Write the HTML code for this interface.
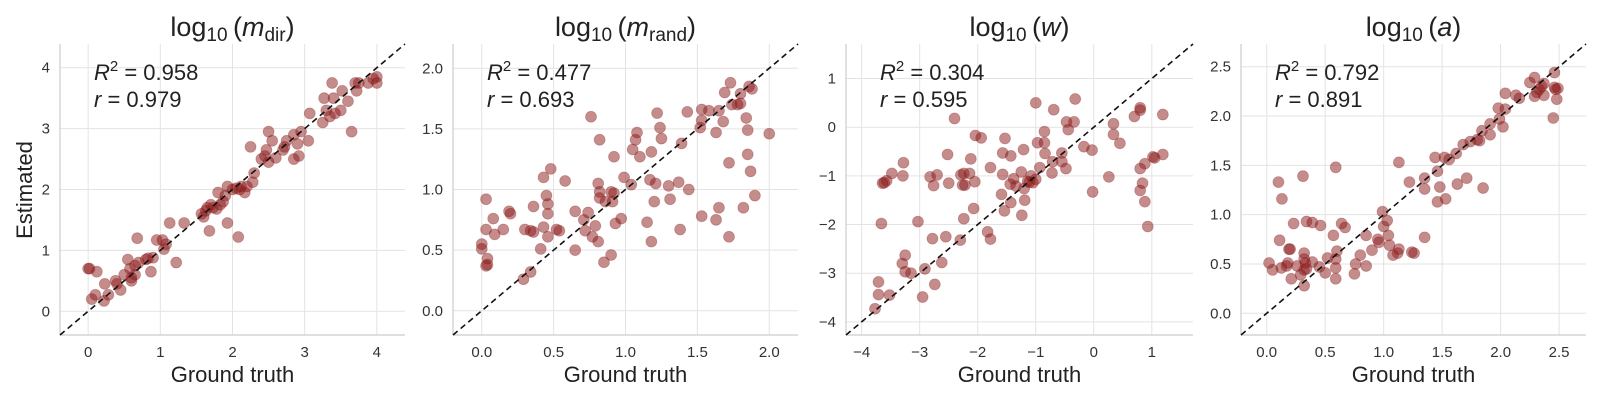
<!DOCTYPE html>
<html><head><meta charset="utf-8">
<style>
html,body{margin:0;padding:0;background:#fff;}
svg{display:block;font-family:"Liberation Sans","DejaVu Sans",sans-serif;}
</style></head>
<body>
<svg id="fig" width="1600" height="400" viewBox="0 0 1600 400" xmlns="http://www.w3.org/2000/svg"></svg>
<script>
// ---- data ----
const gt1=[0,0.02,0.12,0.05,0.1,0.23,0.22,0.28,0.38,0.4,0.45,0.5,0.55,0.6,0.6,0.65,0.68,0.7,0.65,0.58,0.8,0.83,0.87,0.9,0.95,1.03,1.05,1.08,1.13,1.22,1.33,1.57,1.6,1.63,1.65,1.68,1.7,1.73,1.78,1.8,1.83,1.87,1.9,1.93,1.93,2.0,2.05,2.08,2.1,2.12,2.17,2.2,2.25,2.28,2.3,2.4,2.45,2.47,2.5,2.5,2.55,2.6,2.7,2.72,2.75,2.85,2.85,2.9,2.92,2.95,3.05,3.07,3.25,3.27,3.3,3.35,3.38,3.4,3.42,3.5,3.52,3.6,3.65,3.7,3.72,3.75,3.88,3.95,4.0,4.0];
const est1=[0.7,0.7,0.65,0.2,0.27,0.45,0.17,0.27,0.5,0.45,0.35,0.6,0.85,0.55,0.5,0.6,1.2,0.8,0.75,0.7,0.85,0.87,0.65,0.88,1.17,1.17,1.02,1.1,1.45,0.8,1.45,1.6,1.55,1.65,1.7,1.32,1.75,1.7,1.68,1.95,1.75,1.8,1.9,2.05,1.45,2.0,2.02,1.22,2.0,2.05,1.95,2.05,2.7,2.12,2.27,2.5,2.55,2.65,2.45,2.95,2.8,2.52,2.65,2.7,2.8,2.5,2.9,2.75,2.55,2.95,2.8,3.25,3.1,3.5,3.3,3.2,3.75,3.5,3.25,3.3,3.62,3.45,2.95,3.75,3.62,3.75,3.75,3.82,3.85,3.75];
const gt2=[0.0,0.0,0.03,0.03,0.04,0.03,0.04,0.08,0.09,0.15,0.19,0.2,0.3,0.34,0.36,0.36,0.29,0.34,0.41,0.43,0.43,0.45,0.46,0.46,0.46,0.48,0.52,0.54,0.58,0.65,0.65,0.71,0.72,0.74,0.76,0.77,0.79,0.81,0.81,0.82,0.82,0.82,0.85,0.86,0.9,0.9,0.91,0.92,0.92,0.93,0.97,0.99,1.04,1.05,1.07,1.08,1.1,1.15,1.17,1.18,1.18,1.2,1.21,1.22,1.24,1.25,1.3,1.31,1.37,1.38,1.39,1.44,1.43,1.52,1.53,1.53,1.53,1.58,1.63,1.63,1.65,1.65,1.68,1.69,1.72,1.72,1.73,1.74,1.78,1.8,1.8,1.82,1.84,1.85,1.85,1.86,1.87,1.88,1.9,2.0];
const est2=[0.55,0.51,0.92,0.67,0.43,0.37,0.38,0.76,0.63,0.67,0.82,0.8,0.67,0.66,0.65,0.86,0.26,0.32,0.51,0.69,1.1,0.95,0.88,0.8,0.61,1.17,0.67,0.66,1.07,0.82,0.5,0.75,0.66,0.81,1.6,0.61,0.7,0.57,1.05,0.98,0.93,1.41,0.4,0.9,0.98,0.46,0.9,0.97,1.27,0.72,0.76,1.1,1.04,1.33,1.41,1.47,1.27,0.73,1.08,0.57,1.31,0.9,1.05,1.63,1.51,1.42,1.03,0.92,1.06,0.67,1.38,1.0,1.64,1.51,1.57,1.66,0.78,1.65,1.47,0.75,0.85,1.65,1.56,1.8,0.61,1.22,1.88,1.7,1.7,1.79,1.71,0.85,1.59,1.49,1.29,1.85,1.15,1.83,0.95,1.46];
const gt3=[-3.77,-3.71,-3.71,-3.52,-3.66,-3.64,-3.57,-3.48,-3.61,-3.28,-3.29,-3.3,-3.25,-3.25,-3.15,-3.03,-2.95,-2.91,-2.82,-2.78,-2.76,-2.74,-2.7,-2.62,-2.55,-2.52,-2.5,-2.4,-2.3,-2.29,-2.26,-2.24,-2.24,-2.22,-2.14,-2.12,-2.07,-2.05,-2.04,-1.94,-1.83,-1.78,-1.78,-1.59,-1.57,-1.57,-1.54,-1.53,-1.43,-1.43,-1.44,-1.38,-1.34,-1.25,-1.24,-1.21,-1.2,-1.19,-1.14,-1.11,-1.08,-1.05,-1.0,-1.0,-0.97,-0.93,-0.85,-0.85,-0.84,-0.71,-0.72,-0.69,-0.55,-0.55,-0.48,-0.47,-0.44,-0.34,-0.32,-0.17,-0.03,-0.02,0.26,0.34,0.34,0.45,0.7,0.8,0.8,0.8,0.8,0.84,0.88,0.88,0.93,1.02,1.05,1.19,1.19];
const est3=[-3.73,-3.18,-3.44,-3.45,-1.98,-1.15,-1.1,-0.95,-1.14,-0.73,-1.0,-2.8,-2.63,-2.97,-3.0,-1.94,-3.49,-2.91,-1.02,-2.29,-1.2,-3.23,-0.98,-2.78,-2.25,-0.56,-1.15,0.18,-2.32,-0.98,-1.19,-1.88,-0.95,-1.19,-0.95,-0.65,-1.67,-1.12,-0.17,-0.22,-2.15,-2.3,-0.83,-1.38,-0.97,-0.53,-1.72,-0.23,-0.59,-1.55,-1.17,-1.06,-1.21,-0.92,-1.81,-0.46,-1.26,-1.5,-1.11,-1.13,-1.0,-1.14,-1.07,0.5,-0.32,-0.83,-0.09,-0.32,-0.54,-0.71,-0.94,0.36,-0.53,-0.71,-0.85,0.11,-0.05,0.11,0.58,-0.4,-0.47,-1.33,-1.02,0.07,-0.15,-0.33,0.22,0.4,0.35,-0.85,-1.3,-1.15,-0.75,-1.53,-2.04,-0.61,-0.63,0.26,-0.56];
const gt4=[0.02,0.05,0.1,0.11,0.125,0.13,0.17,0.18,0.19,0.2,0.21,0.23,0.26,0.29,0.31,0.32,0.32,0.32,0.32,0.33,0.34,0.34,0.39,0.39,0.45,0.46,0.5,0.52,0.57,0.59,0.59,0.59,0.59,0.6,0.64,0.67,0.75,0.76,0.8,0.85,0.85,0.9,0.95,0.96,0.99,1.0,1.03,1.04,1.05,1.08,1.12,1.13,1.13,1.22,1.24,1.26,1.35,1.35,1.35,1.44,1.46,1.46,1.48,1.52,1.53,1.56,1.62,1.63,1.68,1.71,1.74,1.8,1.82,1.85,1.84,1.91,1.91,1.98,1.99,2.02,2.04,2.04,2.13,2.16,2.25,2.29,2.29,2.31,2.33,2.35,2.37,2.37,2.45,2.46,2.46,2.47,2.48,2.49];
const est4=[0.51,0.44,1.33,0.74,0.46,1.16,0.48,0.51,0.65,0.65,0.35,0.91,0.48,0.39,1.39,0.28,0.61,0.55,0.44,0.51,0.93,0.45,0.92,0.52,0.47,0.89,0.41,0.56,0.79,1.48,0.46,0.35,0.55,0.63,0.91,0.87,0.4,0.5,0.59,0.79,0.48,0.64,0.75,0.72,1.03,0.88,0.94,0.79,0.69,0.59,0.61,0.65,1.53,1.33,0.62,0.61,1.37,0.77,1.26,1.58,1.44,1.13,1.28,1.58,1.16,1.56,1.62,1.31,1.71,1.37,1.74,1.76,1.75,1.27,1.85,1.92,1.81,2.08,1.97,1.89,2.23,2.07,2.21,2.18,2.34,2.39,2.2,2.24,2.27,2.3,2.21,2.33,1.98,2.44,2.29,2.27,2.17,2.28];
const ticks1=[0,1,2,3,4];
const ticks2=[0,0.5,1,1.5,2];
const ticks3=[-4,-3,-2,-1,0,1];
const ticks4=[0,0.5,1,1.5,2,2.5];
const stats=[["0.958","0.979"],["0.477","0.693"],["0.304","0.595"],["0.792","0.891"]];

const NS="http://www.w3.org/2000/svg";
const svg=document.getElementById('fig');
function mk(tag,attrs,parent){const e=document.createElementNS(NS,tag);for(const k in attrs)e.setAttribute(k,attrs[k]);(parent||svg).appendChild(e);return e;}

const panels=[
 {x0:60,x1:405,lo:-0.39,hi:4.39,ticks:ticks1,dec:0,gt:gt1,est:est1,title:["m","dir"]},
 {x0:453,x1:798,lo:-0.2,hi:2.2,ticks:ticks2,dec:1,gt:gt2,est:est2,title:["m","rand"]},
 {x0:846,x1:1193,lo:-4.27,hi:1.71,ticks:ticks3,dec:0,gt:gt3,est:est3,title:["w",null]},
 {x0:1241,x1:1586,lo:-0.22,hi:2.73,ticks:ticks4,dec:1,gt:gt4,est:est4,title:["a",null]}
];
const yT=44,yB=335;

panels.forEach((p,i)=>{
  const g=mk('g',{});
  
  
  const sx=v=>p.x0+(v-p.lo)/(p.hi-p.lo)*(p.x1-p.x0);
  const sy=v=>yB-(v-p.lo)/(p.hi-p.lo)*(yB-yT);
  const fmt=v=>{let s=v.toFixed(p.dec);return s.replace('-','\u2212');};
  p.ticks.forEach(t=>{
    const gx=mk('line',{x1:sx(t),x2:sx(t),y1:yT,y2:yB,stroke:'#e3e3e3','stroke-width':1},g);
    
    
    const gy=mk('line',{x1:p.x0,x2:p.x1,y1:sy(t),y2:sy(t),stroke:'#e3e3e3','stroke-width':1},g);
    
    
    const tx=mk('text',{x:sx(t),y:357,'font-size':15,fill:'#333','text-anchor':'middle'},g);
    tx.textContent=fmt(t);
    
    
    const ty=mk('text',{x:p.x0-10,y:sy(t)+5,'font-size':15,fill:'#333','text-anchor':'end'},g);
    ty.textContent=fmt(t);
    
    
  });
  const sl=mk('line',{x1:p.x0,x2:p.x0,y1:yT,y2:yB,stroke:'#ccc','stroke-width':1.2},g);
  
  
  const sb=mk('line',{x1:p.x0,x2:p.x1,y1:yB,y2:yB,stroke:'#ccc','stroke-width':1.2},g);
  
  
  p.gt.forEach((v,j)=>{
    const c=mk('circle',{cx:sx(v),cy:sy(p.est[j]),r:5.5,fill:'#8b1a1a','fill-opacity':0.5,stroke:'#8b1a1a','stroke-opacity':0.3,'stroke-width':0.8},g);
    
    
  });
  const d=mk('line',{x1:sx(p.lo),y1:sy(p.lo),x2:sx(p.hi),y2:sy(p.hi),stroke:'#111','stroke-width':1.6,'stroke-dasharray':'6,4'},g);
  
  
  const cx=(p.x0+p.x1)/2;
  const t=mk('text',{x:cx,y:36,'font-size':27,fill:'#222','text-anchor':'middle'},g);
  
  
  mk('tspan',{},t).textContent='log';
  const s10=mk('tspan',{'font-size':19,dy:5},t);s10.textContent='10';
  const op=mk('tspan',{dy:-5},t);op.textContent='\u2009(';
  const v=mk('tspan',{'font-style':'italic'},t);v.textContent=p.title[0];
  if(p.title[1]){const sub=mk('tspan',{'font-size':19,dy:5},t);sub.textContent=p.title[1];const cp=mk('tspan',{dy:-5},t);cp.textContent=')';}
  else{const cp=mk('tspan',{},t);cp.textContent=')';}
  const r2=mk('text',{x:p.x0+34,y:80,'font-size':22,fill:'#222'},g);
  
  
  const a=mk('tspan',{'font-style':'italic'},r2);a.textContent='R';
  const b=mk('tspan',{'font-size':15,dy:-9},r2);b.textContent='2';
  const c2=mk('tspan',{dy:9},r2);c2.textContent=' = '+stats[i][0];
  const rr=mk('text',{x:p.x0+34,y:107,'font-size':22,fill:'#222'},g);
  
  
  const e1=mk('tspan',{'font-style':'italic'},rr);e1.textContent='r';
  const e2=mk('tspan',{},rr);e2.textContent=' = '+stats[i][1];
  const xl=mk('text',{x:cx,y:382,'font-size':22,fill:'#222','text-anchor':'middle'},g);
  xl.textContent='Ground truth';
  
  
});
const yl=mk('text',{x:0,y:0,'font-size':22,fill:'#222','text-anchor':'middle',transform:'translate(32,190) rotate(-90)'});
yl.textContent='Estimated';


</script>
</body></html>
